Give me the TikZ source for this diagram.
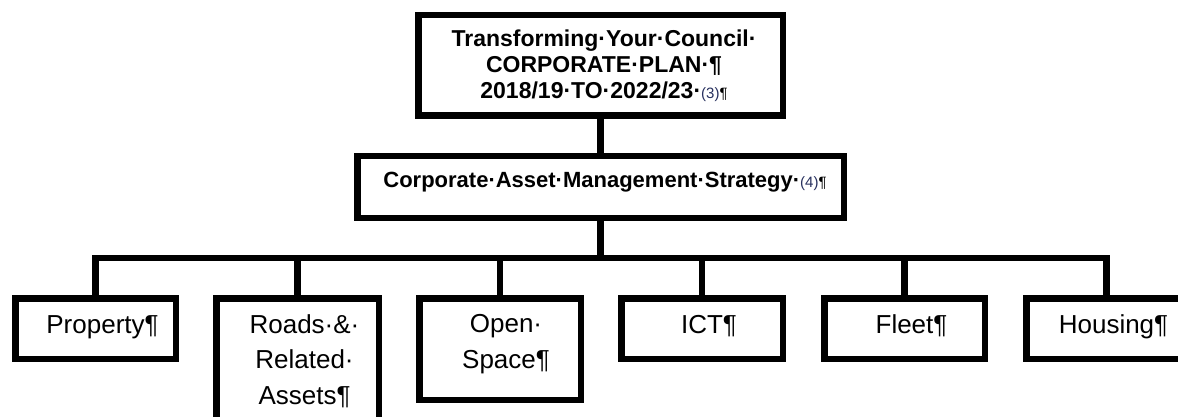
\documentclass[tikz,border=0pt]{standalone}
\usepackage{fontspec}
\setmainfont{Liberation Sans}
\definecolor{fieldnavy}{HTML}{27305E}

% small field reference such as (3), followed by a pilcrow
\newcommand{\fieldref}[1]{{\fontsize{15}{15}\selectfont\mdseries\textcolor{fieldnavy}{(#1)}¶}}

\begin{document}
\begin{tikzpicture}[x=1pt,y=-1pt,
  box/.style={draw=black, line width=6.5pt, rectangle, inner sep=0pt,
    outer sep=0pt, fill=white},
  wire/.style={draw=black, line width=6.5pt, line join=miter},
  headtext/.style={anchor=base, align=center, inner sep=0pt,
    font=\fontsize{23}{26}\selectfont\bfseries},
  midtext/.style={anchor=base, inner sep=0pt,
    font=\fontsize{22}{26}\selectfont\bfseries},
  leaftext/.style={anchor=base, align=center, inner sep=0pt,
    font=\fontsize{26}{35.5}\selectfont}]

\useasboundingbox (0,0) rectangle (1178,417);
\clip (0,0) rectangle (1178,417);

% boxes
\node[box, minimum width=364.5pt, minimum height=100.5pt] (plan) at (600.5,65.5) {};
\node[box, minimum width=486.5pt, minimum height=61.5pt] (cams) at (600.5,187) {};

\node[box, minimum width=160.5pt, minimum height=60.5pt]  (prop)  at (95.5,328.5) {};
\node[box, minimum width=162.5pt, minimum height=138.5pt] (roads) at (297.5,367.5) {};
\node[box, minimum width=161.5pt, minimum height=101.5pt] (open)  at (500,349) {};
\node[box, minimum width=161.5pt, minimum height=60.5pt]  (ict)   at (702,328.5) {};
\node[box, minimum width=160.5pt, minimum height=60.5pt]  (fleet) at (904.5,328.5) {};
\node[box, minimum width=160.5pt, minimum height=60.5pt]  (house) at (1106.5,328.5) {};

% connectors
\coordinate (bus) at (600.5,258);
\draw[wire] (plan.south) -- (cams.north);
\draw[wire] (cams.south) -- (bus);
\draw[wire] (prop.north) -- (prop.north |- bus) -- (house.north |- bus) -- (house.north);
\draw[wire] (roads.north) -- (roads.north |- bus);
\draw[wire] (open.north) -- (open.north |- bus);
\draw[wire] (ict.north) -- (ict.north |- bus);
\draw[wire] (fleet.north) -- (fleet.north |- bus);

% texts (a multi-line node sits on the baseline of its last line)
\node[headtext] (plantext) at (604,99)
  {Transforming·Your·Council·\\CORPORATE·PLAN·¶\\2018/19·TO·2022/23·\fieldref{3}};
\node[midtext] (camstext) at (605,187)
  {Corporate·Asset·Management·Strategy·\fieldref{4}};

\node[leaftext] (proptext)  at (102.5,333) {Property¶};
\node[leaftext] (roadstext) at (304.5,404) {Roads·\&·\\Related·\\Assets¶};
\node[leaftext] (opentext)  at (506,368)   {Open·\\Space¶};
\node[leaftext] (icttext)   at (709,333)   {ICT¶};
\node[leaftext] (fleettext) at (911.5,333) {Fleet¶};
\node[leaftext] (housetext) at (1113.5,333) {Housing¶};
\end{tikzpicture}
\end{document}
